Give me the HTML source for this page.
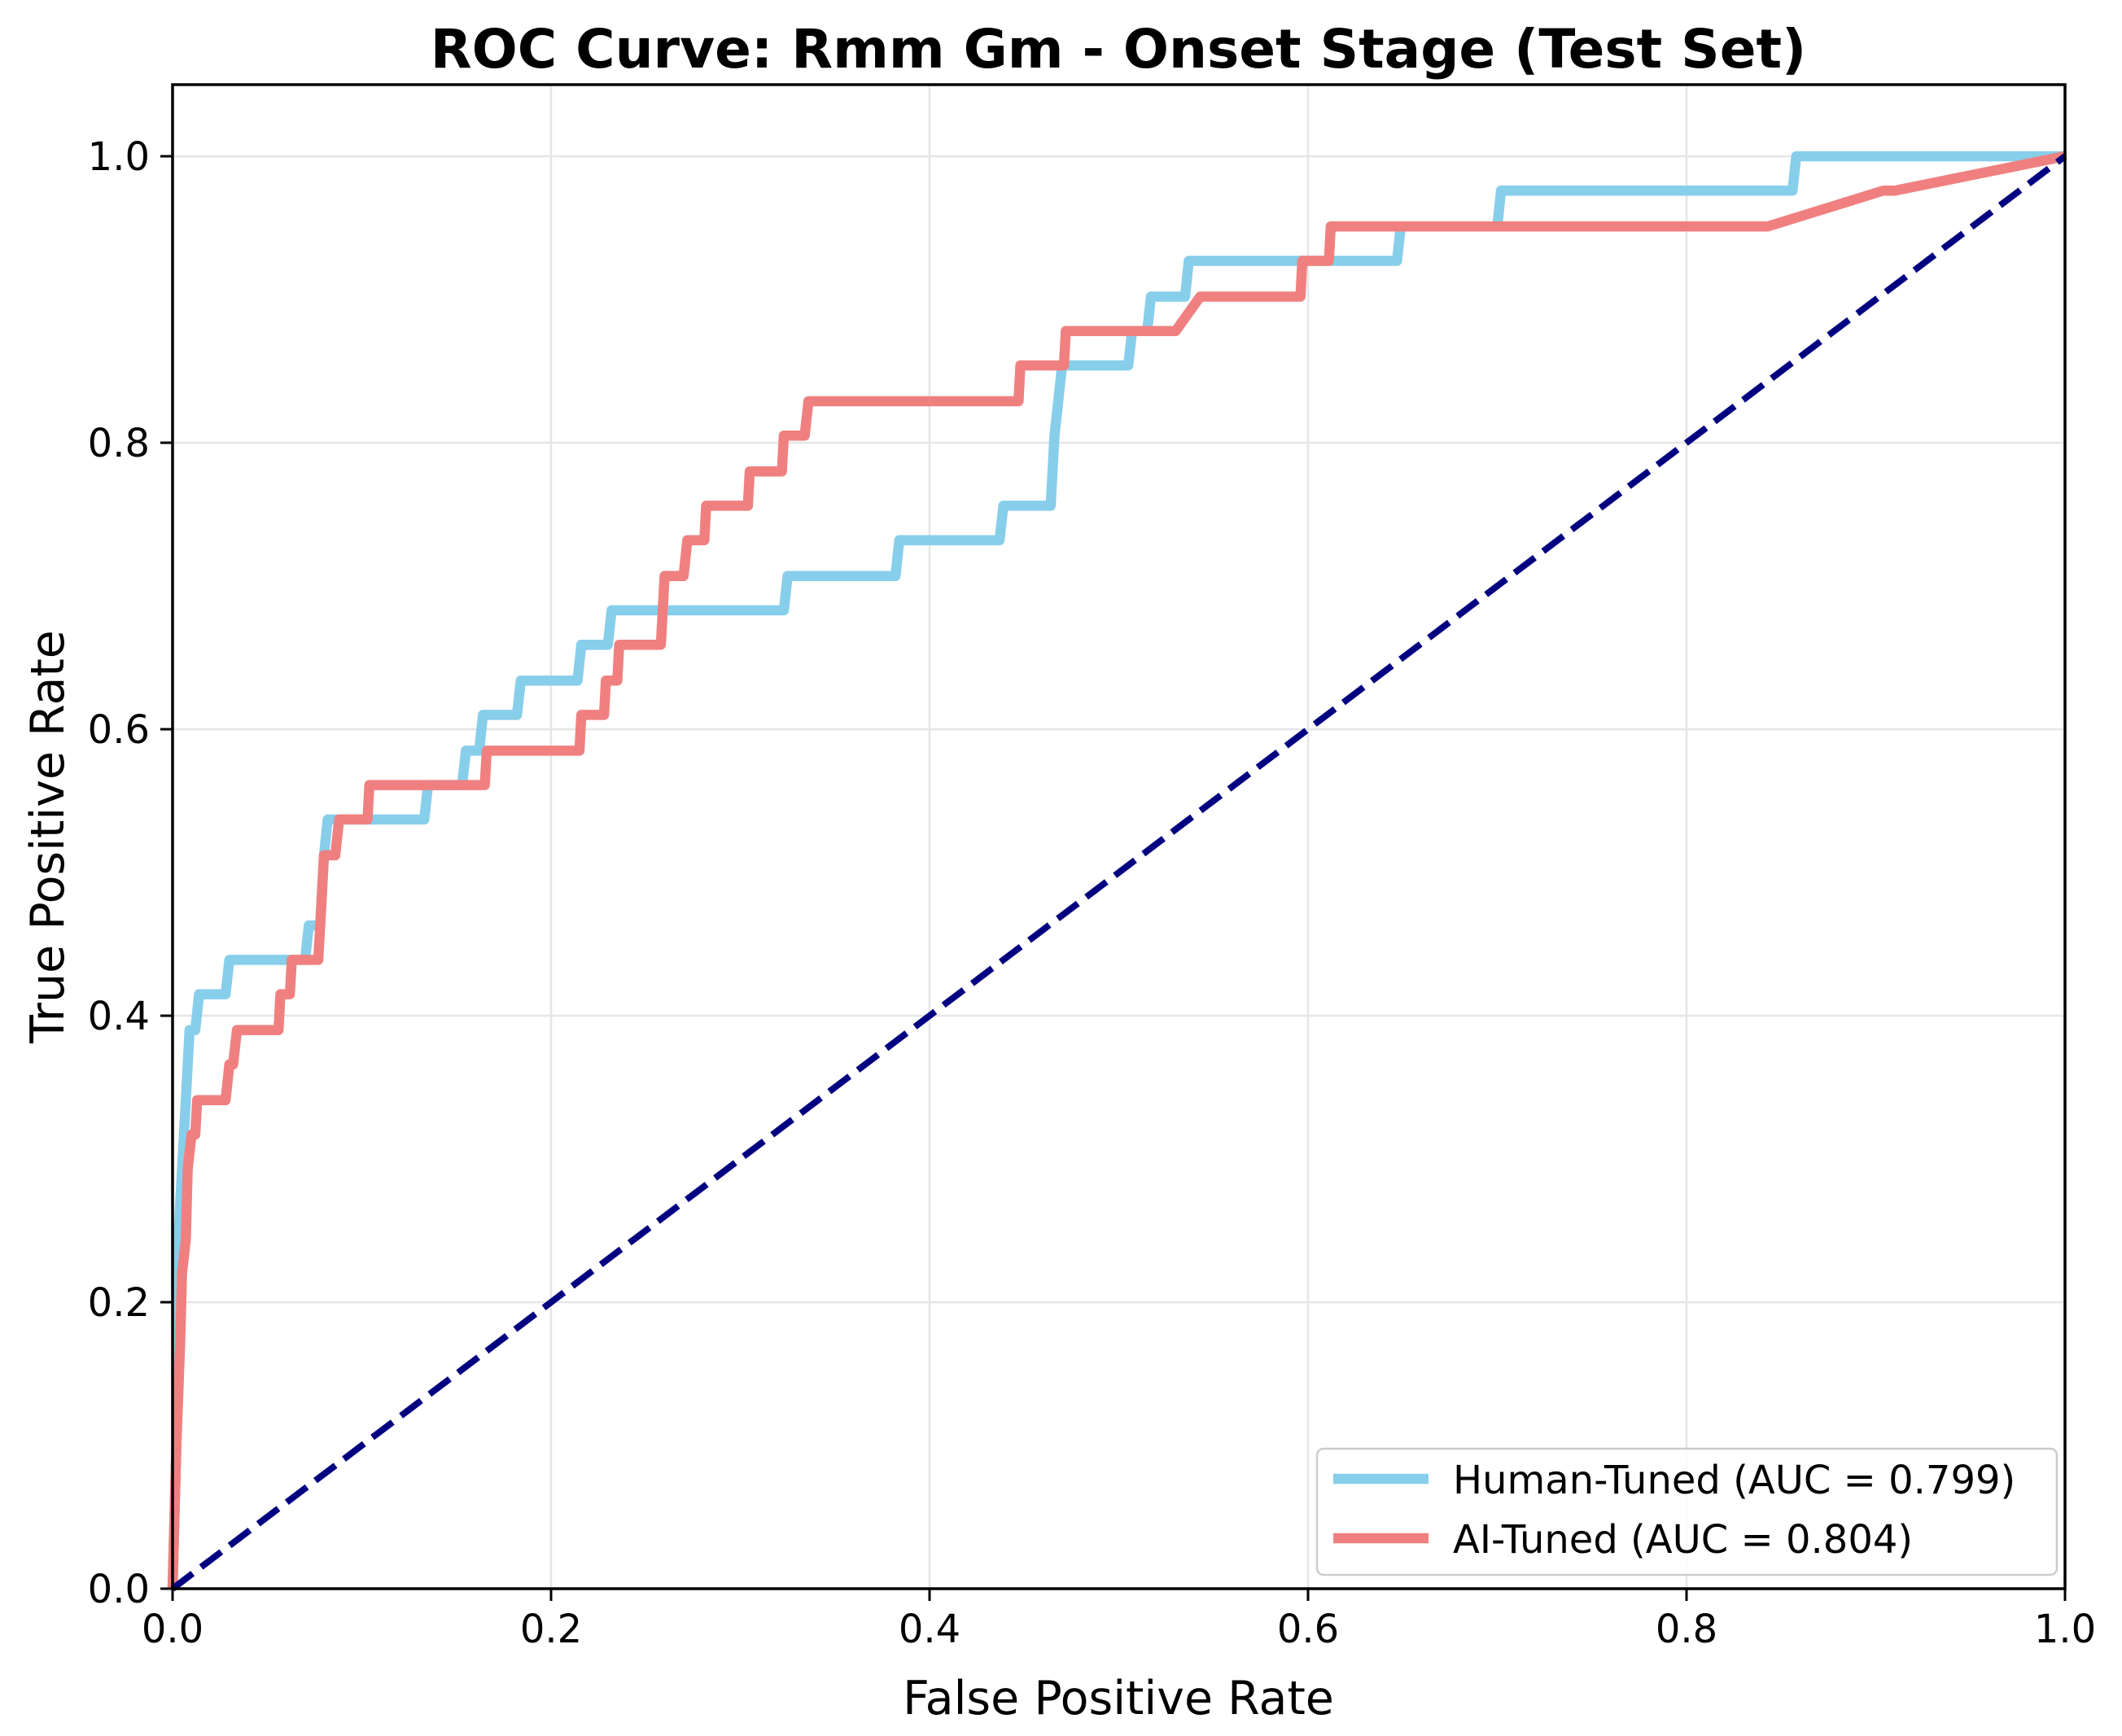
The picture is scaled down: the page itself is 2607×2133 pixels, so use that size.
<!DOCTYPE html>
<html><head><meta charset="utf-8"><style>
html,body{margin:0;padding:0;background:#fff;}
svg{display:block;font-family:"DejaVu Sans","Liberation Sans",sans-serif;}
</style></head><body>
<svg id="chart" width="2607" height="2133" viewBox="0 0 2607 2133" xmlns="http://www.w3.org/2000/svg">
<rect width="2607" height="2133" fill="#fff"/>
<g id="grid"></g>
<g id="series"></g>
<g id="axes"></g>
<text x="1374" y="83" text-anchor="middle" font-size="66" font-weight="bold">ROC Curve: Rmm Gm - Onset Stage (Test Set)</text>
<text x="1374" y="2106" text-anchor="middle" font-size="57">False Positive Rate</text>
<text transform="translate(78,1028) rotate(-90)" text-anchor="middle" font-size="57">True Positive Rate</text>
<g>
<rect x="1618" y="1780" width="909" height="155" rx="8" fill="#fff" fill-opacity="0.8" stroke="#ccc" stroke-width="2.5"/>
<line x1="1638" y1="1817" x2="1755" y2="1817" stroke="#87CEEB" stroke-width="12.5"/>
<text x="1785" y="1835" font-size="48">Human-Tuned (AUC = 0.799)</text>
<line x1="1638" y1="1890" x2="1755" y2="1890" stroke="#F08080" stroke-width="12.5"/>
<text x="1785" y="1908" font-size="48">AI-Tuned (AUC = 0.804)</text>
</g>
</svg>
<script>
const xTicks = [0, 0.2, 0.4, 0.6, 0.8, 1.0];
const xTickLabels = ["0.0","0.2","0.4","0.6","0.8","1.0"];
const yTicks = [0, 0.2, 0.4, 0.6, 0.8, 1.0];
const yTickLabels = ["0.0","0.2","0.4","0.6","0.8","1.0"];
const humanFpr = [0,0.002,0.003,0.005,0.007,0.008,0.009,0.012,0.014,0.028,0.030,0.070,0.072,0.078,0.080,0.082,0.133,0.135,0.153,0.155,0.162,0.164,0.182,0.184,0.214,0.216,0.230,0.232,0.323,0.325,0.382,0.384,0.437,0.439,0.464,0.465,0.466,0.468,0.470,0.505,0.507,0.515,0.517,0.535,0.537,0.647,0.649,0.700,0.702,0.856,0.858,1.0];
const humanTpr = [0,0.100,0.244,0.293,0.341,0.366,0.390,0.390,0.415,0.415,0.439,0.439,0.463,0.463,0.512,0.537,0.537,0.561,0.561,0.585,0.585,0.610,0.610,0.634,0.634,0.659,0.659,0.683,0.683,0.707,0.707,0.732,0.732,0.756,0.756,0.780,0.805,0.829,0.854,0.854,0.878,0.878,0.902,0.902,0.927,0.927,0.951,0.951,0.976,0.976,1.0,1.0];
const aiFpr = [0,0.002,0.004,0.005,0.007,0.008,0.010,0.012,0.013,0.028,0.030,0.032,0.034,0.056,0.057,0.062,0.063,0.077,0.078,0.080,0.086,0.088,0.103,0.104,0.165,0.166,0.215,0.216,0.228,0.229,0.235,0.236,0.258,0.259,0.260,0.270,0.272,0.281,0.282,0.304,0.305,0.322,0.323,0.334,0.336,0.447,0.448,0.471,0.472,0.530,0.543,0.596,0.597,0.611,0.612,0.843,0.904,0.910,1.0];
const aiTpr = [0,0.100,0.171,0.220,0.244,0.293,0.317,0.317,0.341,0.341,0.366,0.366,0.390,0.390,0.415,0.415,0.439,0.439,0.463,0.512,0.512,0.537,0.537,0.561,0.561,0.585,0.585,0.610,0.610,0.634,0.634,0.659,0.659,0.683,0.707,0.707,0.732,0.732,0.756,0.756,0.780,0.780,0.805,0.805,0.829,0.829,0.854,0.854,0.878,0.878,0.902,0.902,0.927,0.927,0.951,0.951,0.976,0.976,1.0];
const NS = "http://www.w3.org/2000/svg";
const X0 = 212, X1 = 2537, Y0 = 1952, YPU = 1760;
const xs = v => X0 + v * (X1 - X0);
const ys = v => Y0 - v * YPU;
function mk(tag, attrs, parent){ const e = document.createElementNS(NS, tag); for (const k in attrs) e.setAttribute(k, attrs[k]); parent.appendChild(e); return e; }
const grid = document.getElementById('grid'), series = document.getElementById('series'), axes = document.getElementById('axes');
xTicks.forEach((t,i)=>{
  const g = mk('line',{x1:xs(t),x2:xs(t),y1:104,y2:Y0,stroke:'#e6e6e6','stroke-width':2.5},grid);
  
  
  const tk = mk('line',{x1:xs(t),x2:xs(t),y1:Y0,y2:Y0+15,stroke:'#000','stroke-width':3},axes);
  
  
  const tx = mk('text',{x:xs(t),y:Y0+66,'text-anchor':'middle','font-size':48},axes);
  tx.textContent = xTickLabels[i];
  
  
});
yTicks.forEach((t,i)=>{
  const g = mk('line',{x1:X0,x2:X1,y1:ys(t),y2:ys(t),stroke:'#e6e6e6','stroke-width':2.5},grid);
  
  
  const tk = mk('line',{x1:X0-15,x2:X0,y1:ys(t),y2:ys(t),stroke:'#000','stroke-width':3},axes);
  
  
  const tx = mk('text',{x:X0-28,y:ys(t)+17,'text-anchor':'end','font-size':48},axes);
  tx.textContent = yTickLabels[i];
  
  
});
function pathOf(fx, ty){ return fx.map((v,i)=>(i?'L':'M')+xs(v).toFixed(1)+','+ys(ty[i]).toFixed(1)).join(' '); }
const hp = mk('path',{d:pathOf(humanFpr,humanTpr),fill:'none',stroke:'#87CEEB','stroke-width':12.5,'stroke-linejoin':'round'},series);


const ap = mk('path',{d:pathOf(aiFpr,aiTpr),fill:'none',stroke:'#F08080','stroke-width':12.5,'stroke-linejoin':'round'},series);


const dg = mk('line',{x1:xs(0),y1:ys(0),x2:xs(1),y2:ys(1),stroke:'#000080','stroke-width':8,'stroke-dasharray':'31 13'},series);


const fr = mk('rect',{x:X0,y:104,width:X1-X0,height:Y0-104,fill:'none',stroke:'#000','stroke-width':3.5},axes);


</script>
</body></html>
